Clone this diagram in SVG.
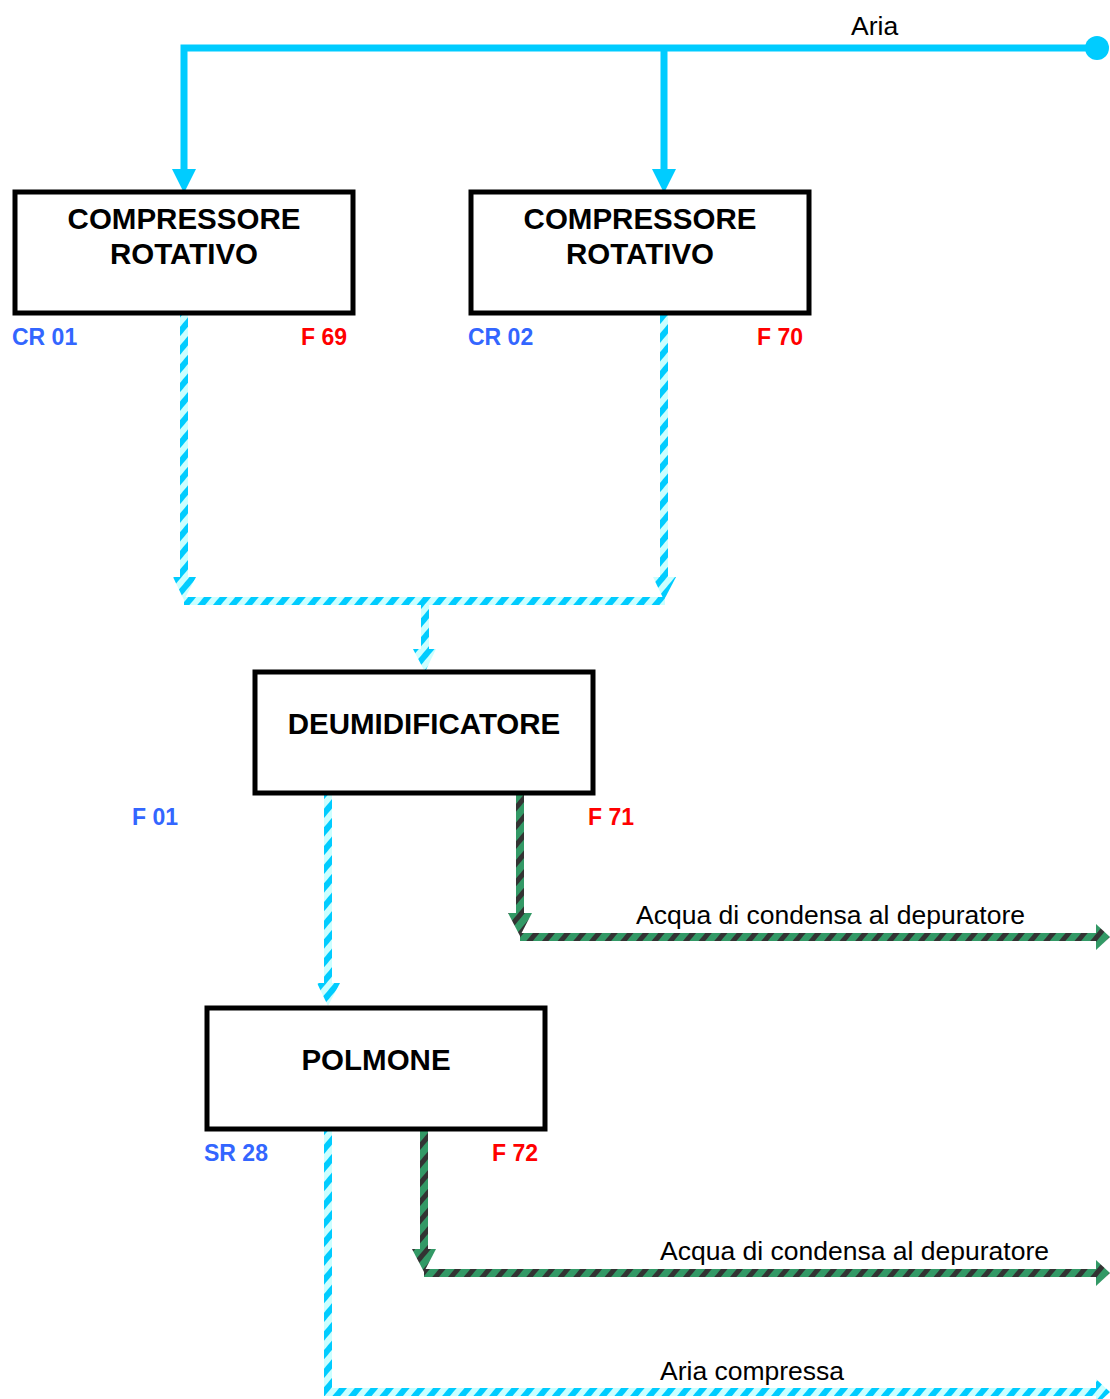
<svg xmlns="http://www.w3.org/2000/svg" width="1110" height="1399" viewBox="0 0 1110 1399">
<defs>
<pattern id="cy" patternUnits="userSpaceOnUse" width="12" height="12" patternTransform="rotate(40)">
<rect width="12" height="12" fill="#ccffff"/><rect width="6" height="12" fill="#00ccff"/>
</pattern>
<pattern id="gr" patternUnits="userSpaceOnUse" width="12" height="12" patternTransform="rotate(40)">
<rect width="12" height="12" fill="#339966"/><rect width="5" height="12" fill="#333333"/>
</pattern>
</defs>
<style>
.box{fill:#fff;stroke:#000;stroke-width:5}
.t{font-family:"Liberation Sans",Arial,sans-serif;font-weight:bold;font-size:29.5px;text-anchor:middle}
.lb{font-family:"Liberation Sans",Arial,sans-serif;font-weight:bold;font-size:23px;fill:#3366ff}
.lr{font-family:"Liberation Sans",Arial,sans-serif;font-weight:bold;font-size:23px;fill:#ff0000}
.n{font-family:"Liberation Sans",Arial,sans-serif;font-size:26.5px;fill:#000}
.air{fill:none;stroke:#00ccff;stroke-width:7}
.sc{fill:url(#cy)}
.sg{fill:url(#gr)}
</style>
<g id="connectors">
<path class="air" d="M184,169 V48 H1097 M664,48 V169"/>
<polygon points="172,169 196,169 184,193" fill="#00ccff"/>
<polygon points="652,169 676,169 664,193" fill="#00ccff"/>
<circle cx="1097" cy="48" r="12" fill="#00ccff"/>
<rect class="sc" x="180" y="313" width="8" height="265"/>
<polygon class="sc" points="173,577 196,577 184,600"/>
<rect class="sc" x="660" y="313" width="8" height="265"/>
<polygon class="sc" points="653,577 676,577 664,600"/>
<rect class="sc" x="184" y="597" width="481" height="8"/>
<rect class="sc" x="421" y="605" width="8" height="45"/>
<polygon class="sc" points="413,649 436,649 425,672"/>
<rect class="sc" x="324" y="793" width="8" height="191"/>
<polygon class="sc" points="317,983 340,983 328,1006"/>
<rect class="sc" x="324" y="1129" width="8" height="267"/>
<rect class="sc" x="324" y="1388" width="774" height="8"/>
<polygon class="sc" points="1096,1379 1110,1392 1096,1405"/>
<rect class="sg" x="516" y="793" width="8" height="121"/>
<polygon class="sg" points="508,913 532,913 520,936"/>
<rect class="sg" x="520" y="933" width="578" height="8"/>
<polygon class="sg" points="1096,924 1110,937 1096,950"/>
<rect class="sg" x="420" y="1129" width="8" height="121"/>
<polygon class="sg" points="412,1249 436,1249 424,1272"/>
<rect class="sg" x="424" y="1269" width="674" height="8"/>
<polygon class="sg" points="1096,1260 1110,1273 1096,1286"/>
</g>
<g id="cr01">
<rect class="box" x="15" y="192" width="338" height="121"/>
<text class="t" x="184" y="229">COMPRESSORE</text>
<text class="t" x="184" y="264">ROTATIVO</text>
</g>
<g id="cr02">
<rect class="box" x="471" y="192" width="338" height="121"/>
<text class="t" x="640" y="229">COMPRESSORE</text>
<text class="t" x="640" y="264">ROTATIVO</text>
</g>
<g id="deum">
<rect class="box" x="255" y="672" width="338" height="121"/>
<text class="t" x="424" y="734">DEUMIDIFICATORE</text>
</g>
<g id="polmone">
<rect class="box" x="207" y="1008" width="338" height="121"/>
<text class="t" x="376" y="1070">POLMONE</text>
</g>
<g id="labels">
<text class="n" x="851" y="35">Aria</text>
<text class="lb" x="12" y="345">CR 01</text>
<text class="lr" x="347" y="345" text-anchor="end">F 69</text>
<text class="lb" x="468" y="345">CR 02</text>
<text class="lr" x="803" y="345" text-anchor="end">F 70</text>
<text class="lb" x="132" y="825">F 01</text>
<text class="lr" x="588" y="825">F 71</text>
<text class="n" x="636" y="924">Acqua di condensa al depuratore</text>
<text class="lb" x="204" y="1161">SR 28</text>
<text class="lr" x="492" y="1161">F 72</text>
<text class="n" x="660" y="1260">Acqua di condensa al depuratore</text>
<text class="n" x="660" y="1380">Aria compressa</text>
</g>
</svg>
